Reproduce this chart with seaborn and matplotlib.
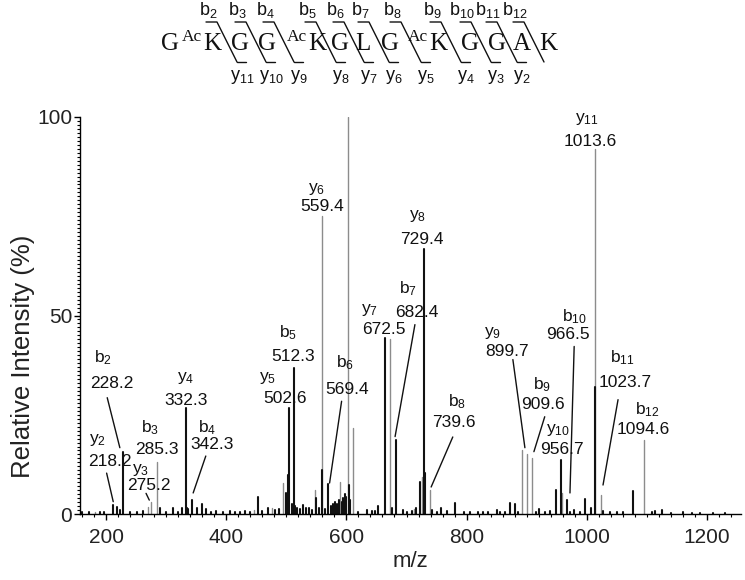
import matplotlib
matplotlib.use("Agg")
import matplotlib.pyplot as plt
from matplotlib.ticker import MultipleLocator
from matplotlib.lines import Line2D
import pandas as pd
import seaborn as sns

# ---------------- data ----------------
mz = [160, 172, 181, 190, 196, 211, 218, 223, 228.2, 240, 252, 262, 270, 275.2, 285.3,
      290, 300, 312, 320, 326, 332.3, 334, 337, 342.3, 351, 359, 366, 375, 383, 395,
      406, 415, 423, 432, 440, 447, 453, 460, 470, 476, 481, 488, 494, 499, 502,
      505, 509, 512.3, 515, 518, 522, 528, 533, 538, 542, 547, 550, 555, 559.4, 560,
      564, 569.4, 574, 578, 581, 584, 587, 590, 592, 595, 597, 599, 603, 603.5, 606,
      611, 620, 634, 642, 648, 653, 664, 672.5, 676, 682.4, 694, 700, 709, 713, 716,
      722, 726, 729.4, 731, 739.6, 742, 750, 757, 767, 781, 795, 806, 819, 828, 836,
      850, 856, 864, 873, 881, 886, 893, 899.7, 909.6, 915, 921, 930, 939, 949, 956.7,
      958, 966.5, 972, 979, 988, 997, 1007, 1013.6, 1014, 1023.7, 1027, 1039, 1050, 1060, 1077,
      1094.6, 1108, 1113, 1125, 1140, 1160, 1175, 1188, 1210, 1230]
intensity = [0.4, 0.5, 0.6, 0.5, 0.6, 2.2, 1.8, 1.0, 15.7, 0.6, 0.5, 0.8, 1.8, 3.1, 13.0,
             1.4, 0.6, 1.4, 0.5, 1.4, 26.8, 1.5, 1.2, 3.5, 1.4, 2.6, 1.2, 0.6, 0.8, 0.5,
             0.8, 0.5, 0.6, 0.7, 0.5, 0.9, 4.3, 0.8, 1.4, 1.4, 1.0, 1.2, 7.9, 5.4, 9.8,
             26.8, 2.5, 36.9, 2.0, 1.5, 1.2, 2.3, 1.5, 1.4, 1.0, 6.0, 4.0, 1.5, 75.0, 11.0,
             1.2, 7.6, 2.0, 2.5, 3.0, 2.6, 3.5, 8.0, 3.0, 4.0, 5.0, 4.3, 100.0, 7.2, 3.5,
             21.7, 0.6, 1.0, 0.8, 0.8, 2.0, 44.4, 44.0, 1.5, 18.7, 1.0, 0.5, 0.8, 1.2, 1.5,
             8.0, 9.4, 66.7, 10.3, 6.0, 1.0, 0.5, 1.4, 0.8, 2.8, 0.6, 0.6, 0.5, 0.4, 0.6,
             1.0, 0.6, 0.5, 2.8, 2.6, 0.6, 16.0, 15.0, 14.0, 0.6, 1.3, 0.5, 0.8, 6.0, 13.6,
             5.3, 3.5, 0.6, 1.0, 0.5, 3.7, 1.6, 92.0, 32.0, 4.8, 0.8, 0.6, 0.4, 0.5, 5.8,
             18.7, 0.6, 0.8, 1.0, 0.3, 0.5, 0.3, 0.3, 0.3, 0.3]
shade = ['black', 'black', 'grey', 'black', 'black', 'black', 'black', 'black', 'black', 'black', 'black', 'black', 'grey', 'grey', 'grey',
         'black', 'black', 'black', 'black', 'black', 'black', 'black', 'black', 'black', 'black', 'black', 'black', 'black', 'black', 'black',
         'black', 'black', 'black', 'black', 'black', 'grey', 'black', 'black', 'black', 'grey', 'black', 'black', 'grey', 'black', 'black',
         'black', 'black', 'black', 'black', 'black', 'black', 'black', 'black', 'black', 'black', 'grey', 'black', 'black', 'grey', 'black',
         'black', 'black', 'black', 'black', 'black', 'black', 'black', 'grey', 'black', 'black', 'black', 'black', 'grey', 'black', 'black',
         'grey', 'black', 'black', 'black', 'black', 'black', 'black', 'grey', 'black', 'black', 'black', 'black', 'black', 'grey', 'black',
         'black', 'grey', 'black', 'black', 'grey', 'black', 'black', 'black', 'black', 'black', 'black', 'black', 'black', 'black', 'black',
         'black', 'black', 'black', 'black', 'black', 'black', 'grey', 'grey', 'grey', 'black', 'black', 'black', 'black', 'black', 'black',
         'grey', 'black', 'black', 'black', 'black', 'black', 'black', 'grey', 'black', 'grey', 'black', 'black', 'black', 'black', 'black',
         'grey', 'black', 'black', 'black', 'black', 'black', 'black', 'black', 'black', 'black']

# annotated fragment ions
ion_names = ['y$_{2}$', 'b$_{2}$', 'y$_{3}$', 'b$_{3}$', 'y$_{4}$', 'b$_{4}$', 'y$_{5}$', 'b$_{5}$',
             'y$_{6}$', 'b$_{6}$', 'y$_{7}$', 'b$_{7}$', 'y$_{8}$', 'b$_{8}$', 'y$_{9}$', 'b$_{9}$',
             'y$_{10}$', 'b$_{10}$', 'y$_{11}$', 'b$_{11}$', 'b$_{12}$']
ion_values = ['218.2', '228.2', '275.2', '285.3', '332.3', '342.3', '502.6', '512.3',
              '559.4', '569.4', '672.5', '682.4', '729.4', '739.6', '899.7', '909.6',
              '956.7', '966.5', '1013.6', '1023.7', '1094.6']

# peptide sequence header
residues = ['G', 'K', 'G', 'G', 'K', 'G', 'L', 'G', 'K', 'G', 'G', 'A', 'K']
acetylated = [False, True, False, False, True, False, False, False, True, False, False, False, False]
b_labels = ['b$_{2}$', 'b$_{3}$', 'b$_{4}$', 'b$_{5}$', 'b$_{6}$', 'b$_{7}$', 'b$_{8}$',
            'b$_{9}$', 'b$_{10}$', 'b$_{11}$', 'b$_{12}$']
y_labels = ['y$_{11}$', 'y$_{10}$', 'y$_{9}$', 'y$_{8}$', 'y$_{7}$', 'y$_{6}$', 'y$_{5}$',
            'y$_{4}$', 'y$_{3}$', 'y$_{2}$']

# ---------------- layout (positions only) ----------------
name_pos = [(185, 18.7), (195, 39.4), (258, 11.1), (273, 21.7), (333, 34.3), (368, 21.7),
            (468, 34.3), (503, 45.7), (551, 81.8), (598, 38.1), (638, 51.5), (702, 56.8),
            (719, 75.0), (784, 28.3), (844, 45.7), (925, 32.6), (952, 21.2), (980, 49.7),
            (1000, 99.5), (1060, 39.4), (1100, 26.3)]
value_pos = [(207, 13.1), (210, 32.8), (271, 7.3), (285, 16.2), (333, 28.5), (376, 17.4),
             (498, 29.0), (511, 39.6), (559, 77.5), (601, 31.3), (663, 46.5), (717, 50.8),
             (726, 69.2), (779, 23.0), (867, 40.9), (927, 27.5), (959, 16.2), (969, 45.2),
             (1005, 93.9), (1064, 33.1), (1094, 21.2)]
leaders = [((201, 10.3), (212, 3.1)), ((202, 29.3), (223, 16.7)), ((266.6, 5.2), (272, 3.5)), None,
           None, ((366, 14.6), (345, 5.3)), None, None, None, ((592, 28.4), (572, 7.8)),
           None, ((714, 47.7), (681, 19.5)), None, ((777, 19.4), (741, 6.8)),
           ((877, 38.9), (897, 16.7)), ((930, 24.5), (912, 15.7)), None,
           ((979, 42.2), (972, 5.3)), None, ((1052, 28.8), (1027, 7.3)), None]

residue_x = [170, 212, 240, 267, 317, 340, 363, 390, 438, 470, 497, 522, 548]
b_label_x = [208, 237, 265, 307, 335, 360, 392, 432, 462, 488, 515]

# ---------------- style ----------------
sns.set_style("ticks")
plt.rcParams['font.family'] = ['Liberation Sans', 'DejaVu Sans']
plt.rcParams['mathtext.fontset'] = 'custom'
plt.rcParams['mathtext.rm'] = 'Liberation Sans'
plt.rcParams['mathtext.it'] = 'Liberation Sans'
plt.rcParams['mathtext.bf'] = 'Liberation Sans'

W, H = 745, 580
fig = plt.figure(figsize=(W / 100, H / 100), dpi=100)
fig.patch.set_facecolor('white')
ax = fig.add_axes([80 / W, 1 - 514 / H, (741 - 80) / W, (514 - 117) / H])

rows = []
for i, (m, h, s) in enumerate(zip(mz, intensity, shade)):
    rows.append((i, m, 0.0, s))
    rows.append((i, m, h, s))
df = pd.DataFrame(rows, columns=['peak', 'mz', 'intensity', 'shade'])

sns.lineplot(data=df, x='mz', y='intensity', units='peak', estimator=None, sort=False,
             hue='shade', hue_order=['grey', 'black'],
             palette={'grey': '#8c8c8c', 'black': '#111111'},
             size='shade', sizes={'grey': 1.0, 'black': 1.5},
             legend=False, ax=ax)

ax.set_xlim(156.7, 1256.6)
ax.set_ylim(0, 100)
sns.despine(ax=ax)
for sp in ['left', 'bottom']:
    ax.spines[sp].set_color('black')
    ax.spines[sp].set_linewidth(1.0)

ax.set_xticks([200, 400, 600, 800, 1000, 1200])
ax.set_yticks([0, 50, 100])
ax.xaxis.set_minor_locator(MultipleLocator(20))
ax.yaxis.set_minor_locator(MultipleLocator(1))
ax.tick_params(axis='both', which='major', labelsize=15, length=4, width=1, color='black',
               labelcolor='#222222', direction='out')
ax.tick_params(axis='both', which='minor', length=2.5, width=0.8, color='black', direction='out')
ax.tick_params(axis='x', which='major', pad=6)
ax.tick_params(axis='y', which='major', pad=1.5)
ax.set_xlabel('m/z', fontsize=16, color='#222222')
ax.set_ylabel('Relative Intensity (%)', fontsize=18.5, color='#222222')
ax.xaxis.set_label_coords(0.5, -(551 - 514) / (514 - 117))
ax.yaxis.set_label_coords(-(80 - 35) / (741 - 80), (514 - 356) / (514 - 117))

# fragment annotations
for name, val, npos, vpos, ld in zip(ion_names, ion_values, name_pos, value_pos, leaders):
    ax.text(npos[0], npos[1], name, fontsize=12.5, ha='center', va='center',
            color='#111111', clip_on=False)
    ax.text(vpos[0], vpos[1], val, fontsize=12.5, ha='center', va='center',
            color='#111111', clip_on=False)
    if ld is not None:
        ax.plot([ld[0][0], ld[1][0]], [ld[0][1], ld[1][1]], color='#111111', lw=1.0,
                clip_on=False)

# peptide sequence header (figure pixel coordinates)
def fx(x):
    return x / W

def fy(y):
    return 1 - y / H

for r, x, ac in zip(residues, residue_x, acetylated):
    fig.text(fx(x), fy(44), r, fontsize=18, family='Liberation Serif', ha='center',
             va='center', color='#111111')
    if ac:
        fig.text(fx(x - 20), fy(37), 'Ac', fontsize=12.5, family='Liberation Serif',
                 ha='center', va='center', color='#111111')

for i, bx in enumerate(b_label_x):
    xt = bx + 9
    fig.text(fx(bx), fy(10), b_labels[i], fontsize=13, ha='center', va='center', color='#111111')
    fig.add_artist(Line2D([fx(xt - 11), fx(xt), fx(xt + 20)], [fy(22), fy(22), fy(62)],
                          transform=fig.transFigure, color='#111111', lw=1.0))
    if i < len(y_labels):
        fig.add_artist(Line2D([fx(xt + 20), fx(xt + 29)], [fy(62), fy(62)],
                              transform=fig.transFigure, color='#111111', lw=1.0))
        fig.text(fx(xt + 25), fy(77), y_labels[i], fontsize=13, ha='center', va='center',
                 color='#111111')

fig.savefig('out.png', dpi=100, facecolor='white')
